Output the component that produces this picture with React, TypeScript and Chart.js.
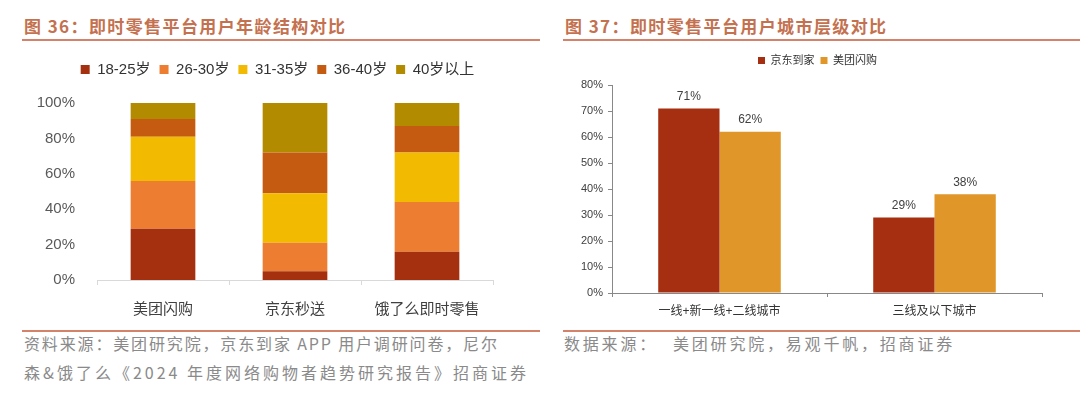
import React, { useEffect, useRef } from "react";
import { Chart, registerables } from "chart.js";

Chart.register(...registerables);

// ---- Figure 36 data ----
const ageCategories = ["美团闪购", "京东秒送", "饿了么即时零售"];
const ageGroups = ["18-25岁", "26-30岁", "31-35岁", "36-40岁", "40岁以上"];
const age18to25 = [29, 5, 16];
const age26to30 = [27, 16, 28];
const age31to35 = [25, 28, 28];
const age36to40 = [10, 23, 15];
const age40plus = [9, 28, 13];
const ageColors = ["#A5300F", "#ED7D31", "#F2BA00", "#C55A11", "#B38B00"];
const ageTicks = [0, 20, 40, 60, 80, 100];

// ---- Figure 37 data ----
const cityCategories = ["一线+新一线+二线城市", "三线及以下城市"];
const citySeries = ["京东到家", "美团闪购"];
const jdValues = [71, 29];
const mtValues = [62, 38];
const cityColors = ["#A52F10", "#E09628"];

const SANS = "'Liberation Sans', Arial, 'Noto Sans CJK SC', sans-serif";

const dataLabelPlugin = {
  id: "dataLabels",
  afterDatasetsDraw(chart: any, _args: any, opts: any) {
    if (!opts || !opts.enabled) return;
    const ctx = chart.ctx;
    ctx.save();
    ctx.font = `${opts.size}px ${SANS}`;
    ctx.fillStyle = opts.color;
    ctx.textAlign = "center";
    ctx.textBaseline = "middle";
    chart.data.datasets.forEach((ds: any, i: number) => {
      const meta = chart.getDatasetMeta(i);
      meta.data.forEach((el: any, j: number) => {
        ctx.fillText(`${ds.data[j]}%`, el.x, el.y - opts.offset);
      });
    });
    ctx.restore();
  },
};

// adds extra space below the legend
const legendGapPlugin = (extra: number) => ({
  id: "legendGap",
  afterInit(chart: any) {
    const legend = chart.legend;
    if (!legend || legend.__patched) return;
    const orig = legend.fit;
    legend.fit = function () {
      orig.call(this);
      this.height += extra;
    };
    legend.__patched = true;
  },
});

const spacerAxis = (w: number) => ({
  type: "linear",
  position: "right",
  display: true,
  grid: { display: false },
  border: { display: false },
  ticks: { display: false },
  afterFit: (s: any) => {
    s.width = w;
  },
});

function AgeChart() {
  const ref = useRef<HTMLCanvasElement>(null);
  useEffect(() => {
    const series = [age18to25, age26to30, age31to35, age36to40, age40plus];
    const chart = new Chart(ref.current!, {
      type: "bar",
      data: {
        labels: ageCategories,
        datasets: series.map((d, i) => ({
          label: ageGroups[i],
          data: d,
          backgroundColor: ageColors[i],
          borderWidth: 0,
          barPercentage: 0.49,
          categoryPercentage: 1,
        })),
      },
      plugins: [legendGapPlugin(16)],
      options: {
        animation: false,
        responsive: false,
        devicePixelRatio: 1,
        layout: { padding: 0 },
        plugins: {
          legend: {
            position: "top",
            labels: {
              boxWidth: 9,
              boxHeight: 9,
              padding: 9,
              color: "#333333",
              font: { size: 15, family: SANS },
            },
          },
          tooltip: { enabled: false },
        } as any,
        scales: {
          x: {
            stacked: true,
            grid: {
              display: true,
              drawOnChartArea: false,
              drawTicks: true,
              tickLength: 5,
              color: "#D9D9D9",
              offset: true,
            },
            border: { display: true, color: "#D9D9D9", width: 1 },
            ticks: {
              color: "#404040",
              font: { size: 15, family: SANS },
              padding: 16,
            },
            afterFit: (s: any) => {
              s.height = 40;
            },
          },
          y: {
            stacked: true,
            min: 0,
            max: 100,
            afterBuildTicks: (s: any) => {
              s.ticks = ageTicks.map((v) => ({ value: v }));
            },
            grid: { display: false },
            border: { display: false },
            ticks: {
              color: "#595959",
              font: { size: 15, family: SANS },
              padding: 14,
              callback: (v: any) => `${v}%`,
            },
            afterFit: (s: any) => {
              s.width = 97;
            },
          },
          yPad: spacerAxis(62),
        } as any,
      },
    });
    return () => chart.destroy();
  }, []);
  return (
    <canvas
      ref={ref}
      width={555}
      height={267}
      style={{ position: "absolute", left: 0, top: 53, width: 555, height: 267 }}
    />
  );
}

function CityChart() {
  const ref = useRef<HTMLCanvasElement>(null);
  useEffect(() => {
    const series = [jdValues, mtValues];
    const chart = new Chart(ref.current!, {
      type: "bar",
      data: {
        labels: cityCategories,
        datasets: series.map((d, i) => ({
          label: citySeries[i],
          data: d,
          backgroundColor: cityColors[i],
          borderWidth: 0,
          barPercentage: 1,
          categoryPercentage: 0.57,
        })),
      },
      plugins: [dataLabelPlugin, legendGapPlugin(9)],
      options: {
        animation: false,
        responsive: false,
        devicePixelRatio: 1,
        layout: { padding: 0 },
        plugins: {
          legend: {
            position: "top",
            labels: {
              boxWidth: 7,
              boxHeight: 7,
              padding: 6,
              color: "#333333",
              font: { size: 11, family: SANS },
            },
          },
          tooltip: { enabled: false },
          dataLabels: { enabled: true, size: 12, color: "#404040", offset: 12 },
        } as any,
        scales: {
          x: {
            grid: {
              display: true,
              drawOnChartArea: false,
              drawTicks: true,
              tickLength: 4,
              color: "#888888",
              offset: true,
            },
            border: { display: true, color: "#888888", width: 1 },
            ticks: {
              color: "#333333",
              font: { size: 12, family: SANS },
              padding: 7,
            },
            afterFit: (s: any) => {
              s.height = 27;
            },
          },
          y: {
            min: 0,
            max: 80,
            ticks: {
              stepSize: 10,
              color: "#404040",
              font: { size: 11, family: SANS },
              padding: 5,
              callback: (v: any) => `${v}%`,
            },
            grid: {
              display: true,
              drawOnChartArea: false,
              drawTicks: true,
              tickLength: 4,
              color: "#888888",
            },
            border: { display: true, color: "#888888", width: 1 },
            afterFit: (s: any) => {
              s.width = 57;
            },
          },
          yPad: spacerAxis(38),
        } as any,
      },
    });
    return () => chart.destroy();
  }, []);
  return (
    <canvas
      ref={ref}
      width={525}
      height={271}
      style={{ position: "absolute", left: 555, top: 49, width: 525, height: 271 }}
    />
  );
}

const titleStyle: React.CSSProperties = {
  position: "absolute",
  top: 15,
  fontFamily: "'Noto Sans CJK SC', sans-serif",
  fontWeight: 700,
  fontSize: 17,
  letterSpacing: 1.4,
  color: "#C4714F",
  whiteSpace: "nowrap",
  lineHeight: "22px",
};

const sourceStyle: React.CSSProperties = {
  position: "absolute",
  fontFamily: "'Noto Sans CJK SC', sans-serif",
  fontSize: 16,
  color: "#8A8A8A",
  whiteSpace: "nowrap",
  lineHeight: "22px",
};

const ruleStyle = (left: number, top: number, width: number): React.CSSProperties => ({
  position: "absolute",
  left,
  top,
  width,
  height: 2,
  background: "#D4836A",
});

export default function App() {
  return (
    <div
      style={{
        position: "absolute",
        left: 0,
        top: 0,
        width: 1080,
        height: 397,
        background: "#FFFFFF",
        overflow: "hidden",
      }}
    >
      <div style={{ ...titleStyle, left: 24 }}>图 36：即时零售平台用户年龄结构对比</div>
      <div style={{ ...titleStyle, left: 565 }}>图 37：即时零售平台用户城市层级对比</div>
      <div style={ruleStyle(22, 39, 518)} />
      <div style={ruleStyle(563, 39, 517)} />
      <AgeChart />
      <CityChart />
      <div style={ruleStyle(22, 330, 518)} />
      <div style={ruleStyle(563, 330, 517)} />
      <div style={{ ...sourceStyle, left: 24, top: 332, letterSpacing: 1.85 }}>
        资料来源：美团研究院，京东到家 APP 用户调研问卷，尼尔
      </div>
      <div style={{ ...sourceStyle, left: 24, top: 361, letterSpacing: 3.0 }}>
        森&amp;饿了么《2024 年度网络购物者趋势研究报告》招商证券
      </div>
      <div style={{ ...sourceStyle, left: 564, top: 332, letterSpacing: 2.8 }}>数据来源：</div>
      <div style={{ ...sourceStyle, left: 673, top: 332, letterSpacing: 2.8 }}>
        美团研究院，易观千帆，招商证券
      </div>
    </div>
  );
}
